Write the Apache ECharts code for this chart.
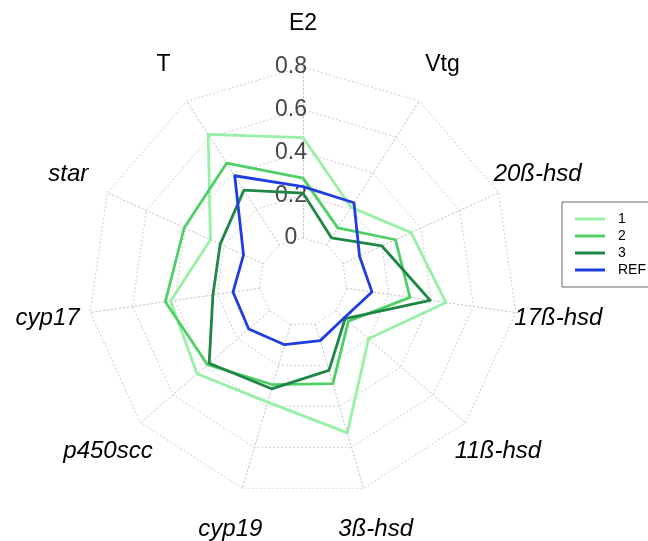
<!DOCTYPE html>
<html>
<head>
<meta charset="utf-8">
<script src="https://cdn.jsdelivr.net/npm/echarts@6/dist/echarts.min.js"></script>
<style>
  html, body { margin: 0; padding: 0; background: #fff; }
  #chart { width: 648px; height: 541px; }
</style>
</head>
<body>
<div id="chart"></div>
<script>
// axes, clockwise from the top
const indicators = ['E2', 'Vtg', '20ß-hsd', '17ß-hsd', '11ß-hsd', '3ß-hsd',
  'cyp19', 'p450scc', 'cyp17', 'star', 'T'];
const uprightNames = ['E2', 'Vtg', 'T'];

const seriesNames = ['1', '2', '3', 'REF'];
const group1 = [0.47, 0.21, 0.35, 0.47, 0.20, 0.53, 0.38, 0.45, 0.42, 0.27, 0.615];
const group2 = [0.28, 0.095, 0.27, 0.30, 0.075, 0.29, 0.295, 0.385, 0.445, 0.405, 0.455];
const group3 = [0.21, 0.04, 0.20, 0.395, 0.055, 0.225, 0.315, 0.375, 0.22, 0.22, 0.305];
const groupRef = [0.24, 0.235, 0.085, 0.12, 0.05, 0.08, 0.10, 0.13, 0.125, 0.10, 0.385];

const tickMin = 0;
const tickMax = 0.8;
const tickCount = 4;

const colors = ['#98f0a6', '#4fd066', '#1f8745', '#1f3ee0'];

const chart = echarts.init(document.getElementById('chart'), null, { renderer: 'canvas' });

// echarts lays radar axes out counter-clockwise, so flip everything after the first
function clockwise(arr) {
  return [arr[0]].concat(arr.slice(1).reverse());
}

const values = [group1, group2, group3, groupRef];
const gridLine = { color: '#c2c2c2', type: [1.5, 2.5], width: 1 };

chart.setOption({
  backgroundColor: '#fff',
  animation: false,
  legend: {
    orient: 'vertical',
    left: 562,
    top: 202,
    padding: [10, 13, 10, 13],
    itemGap: 3,
    itemWidth: 30,
    itemHeight: 3,
    icon: 'rect',
    borderColor: '#666',
    borderWidth: 1,
    textStyle: { fontFamily: 'Liberation Sans', fontSize: 14, color: '#000', padding: [0, 0, 0, 8] },
    data: seriesNames
  },
  radar: {
    center: [303, 282],
    radius: [44, 215],
    shape: 'polygon',
    startAngle: 90,
    splitNumber: tickCount,
    nameGap: 43,
    axisName: {
      fontFamily: 'Liberation Sans',
      fontSize: 24,
      color: '#000',
      align: 'center',
      verticalAlign: 'middle',
      formatter: function (name) {
        return uprightNames.indexOf(name) >= 0 ? '{up|' + name + '}' : '{it|' + name + '}';
      },
      rich: {
        up: { fontFamily: 'Liberation Sans', fontSize: 23, color: '#000' },
        it: { fontFamily: 'Liberation Sans', fontSize: 24, color: '#000', fontStyle: 'italic' }
      }
    },
    indicator: clockwise(indicators).map(function (name, i) {
      const ind = { name: name, min: tickMin, max: tickMax };
      if (i === 0) {
        ind.axisLabel = {
          show: true,
          fontFamily: 'Liberation Sans',
          fontSize: 23,
          color: '#454545',
          align: 'center',
          verticalAlign: 'middle',
          margin: 12
        };
      }
      return ind;
    }),
    axisLine: { lineStyle: gridLine },
    splitLine: { lineStyle: gridLine },
    splitArea: { show: false },
    axisTick: { show: false },
    axisLabel: { show: false }
  },
  series: [{
    type: 'radar',
    symbol: 'none',
    data: values.map(function (vals, i) {
      return {
        name: seriesNames[i],
        value: clockwise(vals),
        itemStyle: { color: colors[i] },
        lineStyle: { color: colors[i], width: 2.8 }
      };
    })
  }]
});
</script>
</body>
</html>
